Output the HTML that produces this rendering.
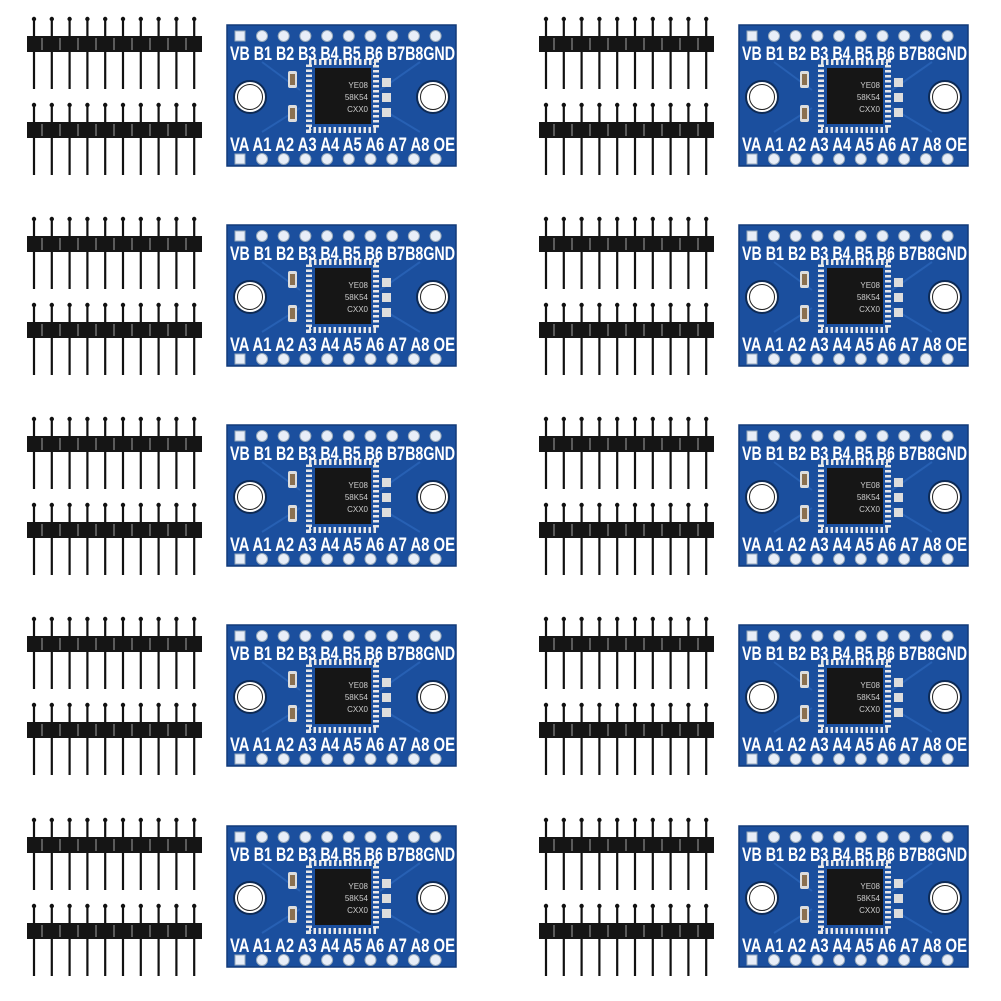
<!DOCTYPE html>
<html><head><meta charset="utf-8"><style>
html,body{margin:0;padding:0;background:#fff;}
svg{display:block;}
.t{font-family:"Liberation Sans",sans-serif;font-size:19px;fill:#fff;font-weight:bold;}
.c{font-family:"Liberation Sans",sans-serif;font-size:8px;fill:#ccc;text-anchor:end;}
</style></head><body>
<svg width="1001" height="1001" viewBox="0 0 1001 1001" xmlns="http://www.w3.org/2000/svg">
<defs>
<g id="hdr">
  <g stroke="#111" stroke-width="2.2">
    <line x1="34" y1="20" x2="34" y2="89"/><line x1="51.8" y1="20" x2="51.8" y2="89"/>
    <line x1="69.6" y1="20" x2="69.6" y2="89"/><line x1="87.4" y1="20" x2="87.4" y2="89"/>
    <line x1="105.2" y1="20" x2="105.2" y2="89"/><line x1="123" y1="20" x2="123" y2="89"/>
    <line x1="140.8" y1="20" x2="140.8" y2="89"/><line x1="158.6" y1="20" x2="158.6" y2="89"/>
    <line x1="176.4" y1="20" x2="176.4" y2="89"/><line x1="194.2" y1="20" x2="194.2" y2="89"/>
  </g>
  <g fill="#111">
    <circle cx="34" cy="19" r="2.2"/><circle cx="51.8" cy="19" r="2.2"/><circle cx="69.6" cy="19" r="2.2"/><circle cx="87.4" cy="19" r="2.2"/><circle cx="105.2" cy="19" r="2.2"/><circle cx="123" cy="19" r="2.2"/><circle cx="140.8" cy="19" r="2.2"/><circle cx="158.6" cy="19" r="2.2"/><circle cx="176.4" cy="19" r="2.2"/><circle cx="194.2" cy="19" r="2.2"/>
  </g>
  <rect x="27" y="36" width="175" height="16" fill="#151515"/>
  <g stroke="#ddd" stroke-width="1" opacity="0.7">
    <line x1="42" y1="38" x2="42" y2="50"/><line x1="60" y1="38" x2="60" y2="50"/><line x1="78" y1="38" x2="78" y2="50"/><line x1="96" y1="38" x2="96" y2="50"/><line x1="114" y1="38" x2="114" y2="50"/><line x1="132" y1="38" x2="132" y2="50"/><line x1="150" y1="38" x2="150" y2="50"/><line x1="168" y1="38" x2="168" y2="50"/><line x1="186" y1="38" x2="186" y2="50"/>
  </g>
</g>
<g id="pads">
  <g fill="#e8eef8" stroke="#9ab" stroke-width="1">
    <rect x="235" y="-5" width="10" height="10"/>
    <circle cx="262" cy="0" r="5.5"/><circle cx="283.7" cy="0" r="5.5"/><circle cx="305.4" cy="0" r="5.5"/><circle cx="327.1" cy="0" r="5.5"/><circle cx="348.8" cy="0" r="5.5"/><circle cx="370.5" cy="0" r="5.5"/><circle cx="392.2" cy="0" r="5.5"/><circle cx="413.9" cy="0" r="5.5"/><circle cx="435.6" cy="0" r="5.5"/>
  </g>
</g>
<g id="pcb">
  <rect x="227" y="25" width="229" height="141" fill="#1b4f9e"/>
  <rect x="227" y="25" width="229" height="141" fill="none" stroke="#123a78" stroke-width="1.5"/>
  <g fill="none" stroke="#2a64b8" stroke-width="2" opacity="0.8">
    <path d="M262 62 L300 90 M262 132 L300 108 M380 90 L420 62 M380 108 L420 132"/>
  </g>
  <use href="#pads" y="36"/>
  <use href="#pads" y="159"/>
  <circle cx="250" cy="97" r="16" fill="#fff" stroke="#0d2a55" stroke-width="2"/>
  <circle cx="250" cy="97" r="12.5" fill="none" stroke="#222" stroke-width="1"/>
  <circle cx="433" cy="97" r="16" fill="#fff" stroke="#0d2a55" stroke-width="2"/>
  <circle cx="433" cy="97" r="12.5" fill="none" stroke="#222" stroke-width="1"/>
  <rect x="309" y="62" width="67" height="68" fill="none" stroke="#e8e8e8" stroke-width="6" stroke-dasharray="2.5 2.5"/>
  <rect x="315" y="68" width="56" height="56" fill="#161616"/>
  <rect x="288" y="71" width="9" height="17" fill="#ddd" rx="2"/>
  <rect x="290" y="74" width="5" height="11" fill="#8a7050"/>
  <rect x="288" y="105" width="9" height="17" fill="#ddd" rx="2"/>
  <rect x="290" y="108" width="5" height="11" fill="#8a7050"/>
  <rect x="382" y="78" width="9" height="9" fill="#ddd"/>
  <rect x="382" y="93" width="9" height="9" fill="#ddd"/>
  <rect x="382" y="108" width="9" height="9" fill="#ddd"/>
</g>
<g id="cell">
  <use href="#hdr"/>
  <use href="#hdr" y="86"/>
  <use href="#pcb"/>
</g>
</defs>

<g transform="translate(0,0)"><use href="#cell"/>
<text class="t" x="230" y="60" textLength="225" lengthAdjust="spacingAndGlyphs">VB B1 B2 B3 B4 B5 B6 B7B8GND</text>
<text class="t" x="230" y="151" textLength="225" lengthAdjust="spacingAndGlyphs">VA A1 A2 A3 A4 A5 A6 A7 A8 OE</text>
<text class="c" x="368" y="88">YE08</text><text class="c" x="368" y="100">58K54</text><text class="c" x="368" y="112">CXX0</text></g>

<g transform="translate(512,0)"><use href="#cell"/>
<text class="t" x="230" y="60" textLength="225" lengthAdjust="spacingAndGlyphs">VB B1 B2 B3 B4 B5 B6 B7B8GND</text>
<text class="t" x="230" y="151" textLength="225" lengthAdjust="spacingAndGlyphs">VA A1 A2 A3 A4 A5 A6 A7 A8 OE</text>
<text class="c" x="368" y="88">YE08</text><text class="c" x="368" y="100">58K54</text><text class="c" x="368" y="112">CXX0</text></g>

<g transform="translate(0,200)"><use href="#cell"/>
<text class="t" x="230" y="60" textLength="225" lengthAdjust="spacingAndGlyphs">VB B1 B2 B3 B4 B5 B6 B7B8GND</text>
<text class="t" x="230" y="151" textLength="225" lengthAdjust="spacingAndGlyphs">VA A1 A2 A3 A4 A5 A6 A7 A8 OE</text>
<text class="c" x="368" y="88">YE08</text><text class="c" x="368" y="100">58K54</text><text class="c" x="368" y="112">CXX0</text></g>

<g transform="translate(512,200)"><use href="#cell"/>
<text class="t" x="230" y="60" textLength="225" lengthAdjust="spacingAndGlyphs">VB B1 B2 B3 B4 B5 B6 B7B8GND</text>
<text class="t" x="230" y="151" textLength="225" lengthAdjust="spacingAndGlyphs">VA A1 A2 A3 A4 A5 A6 A7 A8 OE</text>
<text class="c" x="368" y="88">YE08</text><text class="c" x="368" y="100">58K54</text><text class="c" x="368" y="112">CXX0</text></g>

<g transform="translate(0,400)"><use href="#cell"/>
<text class="t" x="230" y="60" textLength="225" lengthAdjust="spacingAndGlyphs">VB B1 B2 B3 B4 B5 B6 B7B8GND</text>
<text class="t" x="230" y="151" textLength="225" lengthAdjust="spacingAndGlyphs">VA A1 A2 A3 A4 A5 A6 A7 A8 OE</text>
<text class="c" x="368" y="88">YE08</text><text class="c" x="368" y="100">58K54</text><text class="c" x="368" y="112">CXX0</text></g>

<g transform="translate(512,400)"><use href="#cell"/>
<text class="t" x="230" y="60" textLength="225" lengthAdjust="spacingAndGlyphs">VB B1 B2 B3 B4 B5 B6 B7B8GND</text>
<text class="t" x="230" y="151" textLength="225" lengthAdjust="spacingAndGlyphs">VA A1 A2 A3 A4 A5 A6 A7 A8 OE</text>
<text class="c" x="368" y="88">YE08</text><text class="c" x="368" y="100">58K54</text><text class="c" x="368" y="112">CXX0</text></g>

<g transform="translate(0,600)"><use href="#cell"/>
<text class="t" x="230" y="60" textLength="225" lengthAdjust="spacingAndGlyphs">VB B1 B2 B3 B4 B5 B6 B7B8GND</text>
<text class="t" x="230" y="151" textLength="225" lengthAdjust="spacingAndGlyphs">VA A1 A2 A3 A4 A5 A6 A7 A8 OE</text>
<text class="c" x="368" y="88">YE08</text><text class="c" x="368" y="100">58K54</text><text class="c" x="368" y="112">CXX0</text></g>

<g transform="translate(512,600)"><use href="#cell"/>
<text class="t" x="230" y="60" textLength="225" lengthAdjust="spacingAndGlyphs">VB B1 B2 B3 B4 B5 B6 B7B8GND</text>
<text class="t" x="230" y="151" textLength="225" lengthAdjust="spacingAndGlyphs">VA A1 A2 A3 A4 A5 A6 A7 A8 OE</text>
<text class="c" x="368" y="88">YE08</text><text class="c" x="368" y="100">58K54</text><text class="c" x="368" y="112">CXX0</text></g>

<g transform="translate(0,801)"><use href="#cell"/>
<text class="t" x="230" y="60" textLength="225" lengthAdjust="spacingAndGlyphs">VB B1 B2 B3 B4 B5 B6 B7B8GND</text>
<text class="t" x="230" y="151" textLength="225" lengthAdjust="spacingAndGlyphs">VA A1 A2 A3 A4 A5 A6 A7 A8 OE</text>
<text class="c" x="368" y="88">YE08</text><text class="c" x="368" y="100">58K54</text><text class="c" x="368" y="112">CXX0</text></g>

<g transform="translate(512,801)"><use href="#cell"/>
<text class="t" x="230" y="60" textLength="225" lengthAdjust="spacingAndGlyphs">VB B1 B2 B3 B4 B5 B6 B7B8GND</text>
<text class="t" x="230" y="151" textLength="225" lengthAdjust="spacingAndGlyphs">VA A1 A2 A3 A4 A5 A6 A7 A8 OE</text>
<text class="c" x="368" y="88">YE08</text><text class="c" x="368" y="100">58K54</text><text class="c" x="368" y="112">CXX0</text></g>
</svg>
</body></html>
